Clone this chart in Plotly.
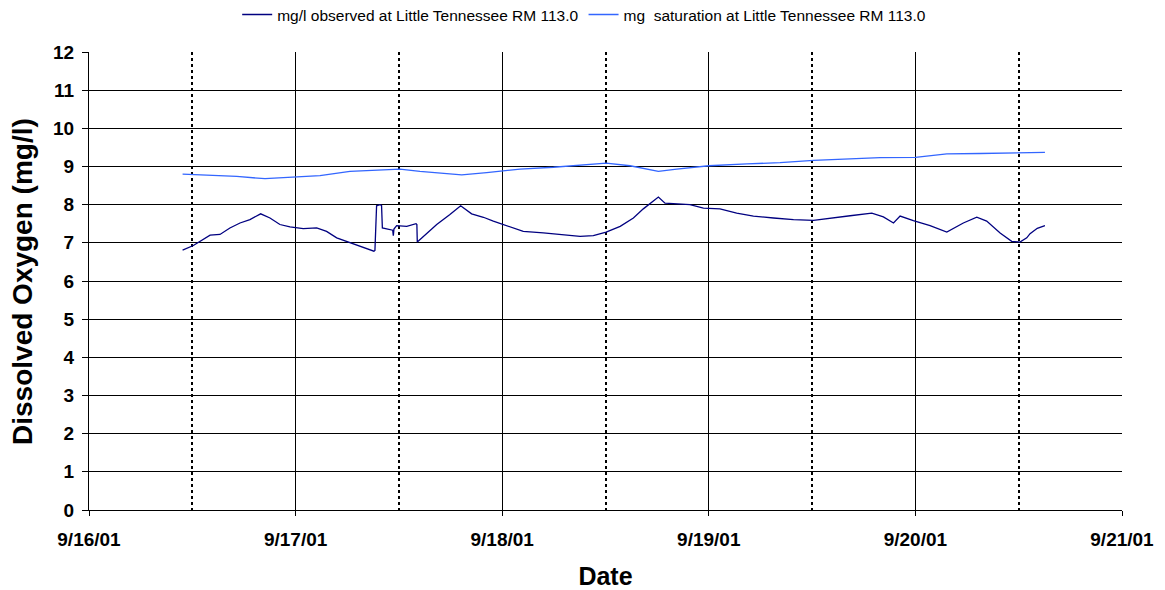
import pandas as pd
import plotly.graph_objects as go

BASE = pd.Timestamp("2001-09-16")

# observed DO, time in days after 9/16/01 00:00
obs_days = [0.453, 0.505, 0.586, 0.634, 0.682, 0.731, 0.779, 0.831, 0.876, 0.924, 0.973,
            1.037, 1.102, 1.150, 1.199, 1.263, 1.320, 1.379, 1.384, 1.392, 1.408, 1.416,
            1.420, 1.457, 1.470, 1.473, 1.476, 1.489, 1.538, 1.583, 1.587, 1.589, 1.618,
            1.683, 1.747, 1.799, 1.852, 1.909, 1.957, 2.022, 2.102, 2.199, 2.328, 2.377,
            2.441, 2.503, 2.571, 2.635, 2.683, 2.716, 2.756, 2.788, 2.845, 2.909, 2.974,
            3.054, 3.135, 3.216, 3.313, 3.410, 3.507, 3.587, 3.684, 3.789, 3.845, 3.894,
            3.926, 3.990, 4.071, 4.152, 4.232, 4.297, 4.345, 4.410, 4.466, 4.506, 4.539,
            4.555, 4.590, 4.627]
obs_vals = [6.81, 6.93, 7.20, 7.22, 7.39, 7.52, 7.61, 7.76, 7.65, 7.48, 7.42,
            7.37, 7.39, 7.30, 7.13, 7.00, 6.90, 6.78, 6.80, 7.97, 8.00, 7.98,
            7.39, 7.35, 7.33, 7.19, 7.36, 7.45, 7.43, 7.50, 7.48, 7.02, 7.17,
            7.48, 7.74, 7.97, 7.76, 7.67, 7.57, 7.45, 7.30, 7.26, 7.19, 7.17,
            7.19, 7.28, 7.43, 7.65, 7.89, 8.04, 8.20, 8.04, 8.03, 8.00, 7.91,
            7.89, 7.78, 7.70, 7.65, 7.61, 7.59, 7.65, 7.71, 7.78, 7.68, 7.52,
            7.70, 7.58, 7.45, 7.28, 7.52, 7.67, 7.57, 7.26, 7.04, 7.02, 7.13,
            7.24, 7.38, 7.45]

sat_days = [0.453, 0.586, 0.715, 0.852, 1.0, 1.118, 1.263, 1.392, 1.505, 1.602, 1.699,
            1.804, 1.925, 2.086, 2.248, 2.377, 2.503, 2.619, 2.756, 2.845, 3.0, 3.184,
            3.345, 3.507, 3.668, 3.829, 4.0, 4.152, 4.313, 4.506, 4.555, 4.627]
sat_vals = [8.80, 8.77, 8.74, 8.68, 8.72, 8.76, 8.87, 8.91, 8.93, 8.87, 8.83,
            8.78, 8.84, 8.93, 8.98, 9.04, 9.09, 9.02, 8.87, 8.93, 9.02, 9.07,
            9.10, 9.16, 9.20, 9.23, 9.24, 9.33, 9.34, 9.35, 9.37, 9.37]

obs_t = [BASE + pd.Timedelta(days=d) for d in obs_days]
sat_t = [BASE + pd.Timedelta(days=d) for d in sat_days]

FONT = "Liberation Sans, Arial, sans-serif"

fig = go.Figure()
fig.add_trace(go.Scatter(x=obs_t, y=obs_vals, mode="lines",
                         name="mg/l observed at Little Tennessee RM 113.0",
                         line=dict(color="#000080", width=1.3)))
fig.add_trace(go.Scatter(x=sat_t, y=sat_vals, mode="lines",
                         name="mg  saturation at Little Tennessee RM 113.0",
                         line=dict(color="#3366FF", width=1.3)))

fig.update_layout(
    width=1157, height=582,
    margin=dict(l=81, r=43, t=44, b=80, autoexpand=False),
    paper_bgcolor="white", plot_bgcolor="white",
    font=dict(family=FONT, color="black"),
    showlegend=True,
    legend=dict(orientation="h", x=0.498, xanchor="center", xref="container",
                y=1.081, yanchor="middle", yref="paper",
                font=dict(size=15.5), itemwidth=30, tracegroupgap=0),
)

fig.add_annotation(
    text="Dissolved Oxygen (mg/l)", textangle=-90,
    xref="paper", yref="paper", x=-0.0649, y=0.5,
    xanchor="center", yanchor="middle", showarrow=False,
    font=dict(size=28, weight="bold", family=FONT, color="black"),
)

fig.update_xaxes(
    type="date",
    range=[BASE, BASE + pd.Timedelta(days=5)],
    tick0=BASE, dtick=86400000,
    tickformat="%-m/%-d/%y",
    tickfont=dict(size=19, weight="bold"),
    ticklabelstandoff=7,
    showgrid=True, gridcolor="black", gridwidth=1,
    showline=True, linecolor="black", linewidth=1,
    ticks="outside", ticklen=5, tickcolor="black",
    minor=dict(dtick=43200000, tick0=BASE, showgrid=True, gridcolor="black",
               gridwidth=2, griddash="dot", ticks=""),
    title=dict(text="Date", font=dict(size=25, weight="bold"), standoff=21),
    zeroline=False, automargin=False,
)
fig.update_yaxes(
    range=[0, 12], dtick=1,
    tickfont=dict(size=19, weight="bold"),
    ticklabelstandoff=4,
    showgrid=True, gridcolor="black", gridwidth=1,
    showline=True, linecolor="black", linewidth=1,
    ticks="outside", ticklen=6, tickcolor="black",
    zeroline=False, automargin=False,
)

fig.write_html("out.html")
